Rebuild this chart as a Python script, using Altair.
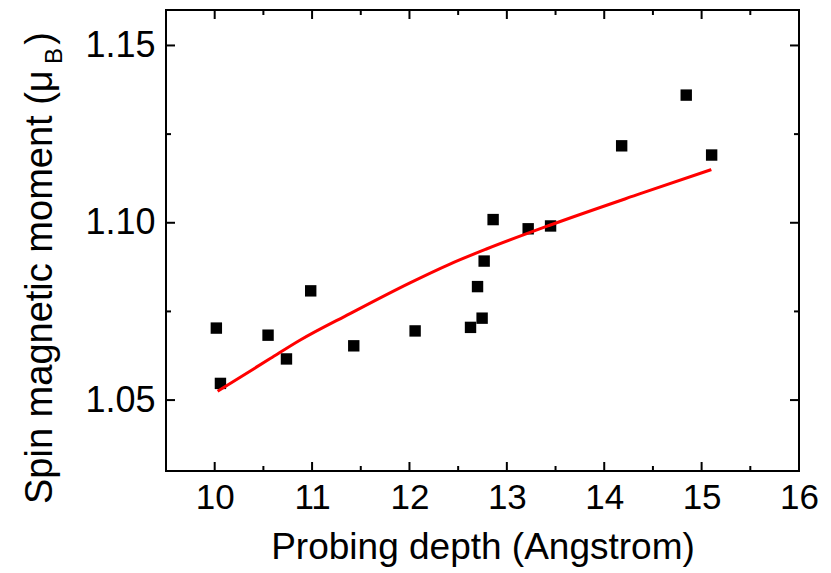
import altair as alt
import pandas as pd

# Measured data (probing depth in Angstrom, spin moment in mu_B)
depth = [10.017, 10.059, 10.548, 10.737, 10.986, 11.428, 12.058, 12.627, 12.699,
         12.746, 12.767, 12.859, 13.219, 13.449, 14.179, 14.842, 15.103]
moment = [1.0703, 1.0547, 1.0683, 1.0616, 1.0808, 1.0653, 1.0695, 1.0705, 1.0820,
          1.0731, 1.0892, 1.1009, 1.0983, 1.0991, 1.1217, 1.1360, 1.1191]

# Fitted curve
fit_depth = [10.03, 10.57, 10.87, 11.39, 12.00, 12.41, 12.79, 13.44, 14.37, 15.10]
fit_moment = [1.0525, 1.0617, 1.0668, 1.0744, 1.0830, 1.0883, 1.0926, 1.0993, 1.1082, 1.1150]

# Ticks
x_major = [10, 11, 12, 13, 14, 15, 16]
x_minor = [10.5, 11.5, 12.5, 13.5, 14.5, 15.5]
y_major = [1.05, 1.10, 1.15]
y_minor = [1.075, 1.125]

W, H = 633, 461
FONT = "Liberation Sans"
MAJ, MIN = 9, 5

xs = alt.Scale(domain=[9.5, 16], nice=False, zero=False)
ys = alt.Scale(domain=[1.03, 1.16], nice=False, zero=False)

ax_x = alt.Axis(values=x_major, format="d", title="Probing depth (Angstrom)",
                ticks=False, domain=False, grid=False, labelFlush=False, labelOverlap=False,
                labelPadding=9, labelFontSize=35, labelFont=FONT, labelColor="black",
                titleFontSize=37, titleFont=FONT, titleFontWeight="normal",
                titleColor="black", titlePadding=14)
ax_y = alt.Axis(values=y_major, format=".2f", title=None, labelFlush=False, labelOverlap=False,
                ticks=False, domain=False, grid=False,
                labelPadding=11, labelFontSize=36, labelFont=FONT, labelColor="black")

pts_df = pd.DataFrame({"depth": depth, "moment": moment})
fit_df = pd.DataFrame({"depth": fit_depth, "moment": fit_moment})

points = alt.Chart(pts_df).mark_square(size=130, color="black", opacity=1).encode(
    x=alt.X("depth:Q", scale=xs, axis=ax_x),
    y=alt.Y("moment:Q", scale=ys, axis=ax_y),
)

fit = alt.Chart(fit_df).mark_line(color="#ff0000", strokeWidth=3, interpolate="monotone").encode(
    x=alt.X("depth:Q", scale=xs, axis=ax_x),
    y=alt.Y("moment:Q", scale=ys, axis=ax_y),
)


def xticks(vals, top, length):
    df = pd.DataFrame({"depth": vals})
    if top:
        yy, yy2 = alt.value(0), alt.value(length)
    else:
        yy, yy2 = alt.value(H), alt.value(H - length)
    return alt.Chart(df).mark_rule(color="black", strokeWidth=2).encode(
        x=alt.X("depth:Q", scale=xs, axis=ax_x), y=yy, y2=yy2)


def yticks(vals, right, length):
    df = pd.DataFrame({"moment": vals})
    if right:
        xx, xx2 = alt.value(W), alt.value(W - length)
    else:
        xx, xx2 = alt.value(0), alt.value(length)
    return alt.Chart(df).mark_rule(color="black", strokeWidth=2).encode(
        y=alt.Y("moment:Q", scale=ys, axis=ax_y), x=xx, x2=xx2)


tick_layers = [
    xticks(x_major, False, MAJ), xticks(x_minor, False, MIN),
    xticks(x_major, True, MAJ), xticks(x_minor, True, MIN),
    yticks(y_major, False, MAJ), yticks(y_minor, False, MIN),
    yticks(y_major, True, MAJ), yticks(y_minor, True, MIN),
]

title_main = alt.Chart(pd.DataFrame({"t": ["Spin magnetic moment (\u03bc"]})).mark_text(
    font=FONT, fontSize=38, angle=270, align="left", baseline="alphabetic", color="black"
).encode(text="t:N", x=alt.value(-114), y=alt.value(494))

title_sub = alt.Chart(pd.DataFrame({"t": ["B"]})).mark_text(
    font=FONT, fontSize=24, angle=270, align="center", baseline="alphabetic", color="black"
).encode(text="t:N", x=alt.value(-104), y=alt.value(46))

title_end = alt.Chart(pd.DataFrame({"t": [")"]})).mark_text(
    font=FONT, fontSize=38, angle=270, align="right", baseline="alphabetic", color="black"
).encode(text="t:N", x=alt.value(-114), y=alt.value(22))

chart = alt.layer(points, fit, *tick_layers, title_main, title_sub, title_end).properties(
    width=W, height=H,
    autosize=alt.AutoSizeParams(type="none"),
    padding={"left": 158, "top": 2, "right": 23, "bottom": 100},
).configure_view(stroke="black", strokeWidth=2)

chart.save("out.html", embed_options={"renderer": "svg", "actions": False})
